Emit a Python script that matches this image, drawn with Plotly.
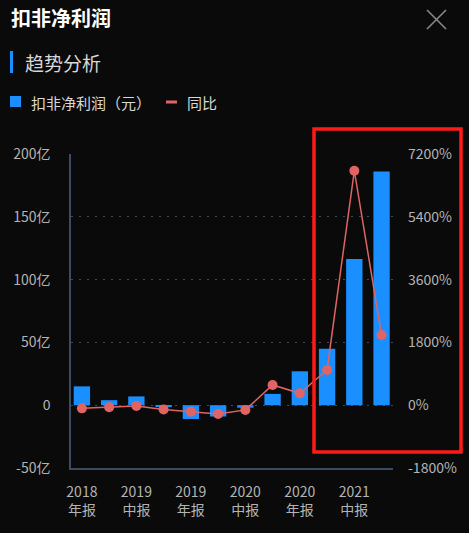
import plotly.graph_objects as go

# ---------------- data ----------------
periods = ["2018年报", "2019一季报", "2019中报", "2019三季报", "2019年报", "2020一季报",
           "2020中报", "2020三季报", "2020年报", "2021一季报", "2021中报", "2021三季报"]
profit_yi = [15, 4, 7, -1.5, -11, -9, -2, 9, 27, 45, 116.5, 186]          # 扣非净利润 (亿元)
yoy_pct = [-90, -60, -20, -120, -190, -250, -135, 580, 340, 1010, 6720, 2010]  # 同比 (%)

tick_idx = [0, 2, 4, 6, 8, 10]
tick_text = ["2018<br>年报", "2019<br>中报", "2019<br>年报", "2020<br>中报", "2020<br>年报", "2021<br>中报"]

left_vals = [-50, 0, 50, 100, 150, 200]
left_text = ["-50亿", "0", "50亿", "100亿", "150亿", "200亿"]
right_vals = [-1800, 0, 1800, 3600, 5400, 7200]
right_text = ["-1800%", "0%", "1800%", "3600%", "5400%", "7200%"]

BG = "#0a0a0a"
BLUE = "#1a8fff"
RED = "#e06464"
AXIS = "#3b4b60"
TXT = "#b4b4b4"
FONT = "Noto Sans CJK SC"

# plot area in pixels: x 71..393, y 154..468
def px(x):
    return (x - 71) / 322

def py(y):
    return (468 - y) / 314

fig = go.Figure()
fig.add_trace(go.Bar(x=periods, y=profit_yi, marker=dict(color=BLUE, line=dict(width=0)),
                     name="扣非净利润(元)"))
fig.add_trace(go.Scatter(x=periods, y=yoy_pct, yaxis="y2", mode="lines+markers",
                         line=dict(color=RED, width=1.5), marker=dict(color=RED, size=10),
                         name="同比"))

fig.update_layout(
    width=469, height=533,
    margin=dict(l=71, r=76, t=154, b=65),
    paper_bgcolor=BG, plot_bgcolor=BG,
    showlegend=False,
    bargap=0.4,
    font=dict(family=FONT, color=TXT, size=14),
    xaxis=dict(
        range=[-0.4, 11.42], automargin=False,
        tickvals=[periods[i] for i in tick_idx], ticktext=tick_text,
        showgrid=False, showline=True, linecolor=AXIS, linewidth=1.5,
        ticks="", ticklabelstandoff=10,
    ),
    yaxis=dict(
        range=[-50, 200], tickvals=left_vals, ticktext=left_text, automargin=False,
        showgrid=True, gridcolor=AXIS, griddash="2px,6px", gridwidth=1,
        zeroline=False, showline=True, linecolor=AXIS, linewidth=1.5,
        ticks="", ticklabelstandoff=16,
    ),
    yaxis2=dict(
        range=[-1800, 7200], tickvals=right_vals, ticktext=right_text, automargin=False,
        overlaying="y", side="right", showgrid=False, zeroline=False,
        showline=False, ticks="", ticklabelstandoff=14,
    ),
)

# header
fig.add_annotation(text="<b>扣非净利润</b>", xref="paper", yref="paper", x=px(9), y=py(17),
                   xanchor="left", yanchor="middle", showarrow=False,
                   font=dict(size=20, color="#ffffff"))
for a, b in [((427, 10), (446, 29)), ((427, 29), (446, 10))]:
    fig.add_shape(type="line", xref="paper", yref="paper",
                  x0=px(a[0]), y0=py(a[1]), x1=px(b[0]), y1=py(b[1]),
                  line=dict(color="#8a8a8a", width=1.6))
fig.add_shape(type="rect", xref="paper", yref="paper",
              x0=px(10), x1=px(13), y0=py(73), y1=py(51),
              fillcolor=BLUE, line=dict(width=0))
fig.add_annotation(text="趋势分析", xref="paper", yref="paper", x=px(23), y=py(62),
                   xanchor="left", yanchor="middle", showarrow=False,
                   font=dict(size=19, color="#d8d8d8"))

# legend built by hand
fig.add_shape(type="rect", xref="paper", yref="paper",
              x0=px(10), x1=px(21), y0=py(107), y1=py(96),
              fillcolor=BLUE, line=dict(width=0))
fig.add_annotation(text="扣非净利润（元）", xref="paper", yref="paper", x=px(29), y=py(102),
                   xanchor="left", yanchor="middle", showarrow=False,
                   font=dict(size=15, color="#d8d8d8"))
fig.add_shape(type="line", xref="paper", yref="paper",
              x0=px(166), x1=px(177), y0=py(102), y1=py(102),
              line=dict(color=RED, width=3))
fig.add_annotation(text="同比", xref="paper", yref="paper", x=px(185), y=py(102),
                   xanchor="left", yanchor="middle", showarrow=False,
                   font=dict(size=15, color="#d8d8d8"))

# red highlight box
fig.add_shape(type="rect", xref="paper", yref="paper",
              x0=px(314), x1=px(461), y0=py(452), y1=py(129),
              line=dict(color="#ff1a1a", width=3.5))

fig.write_html("out.html", config={"displayModeBar": False},
               post_script="document.body.style.margin='0';document.body.style.background='#0a0a0a';")
